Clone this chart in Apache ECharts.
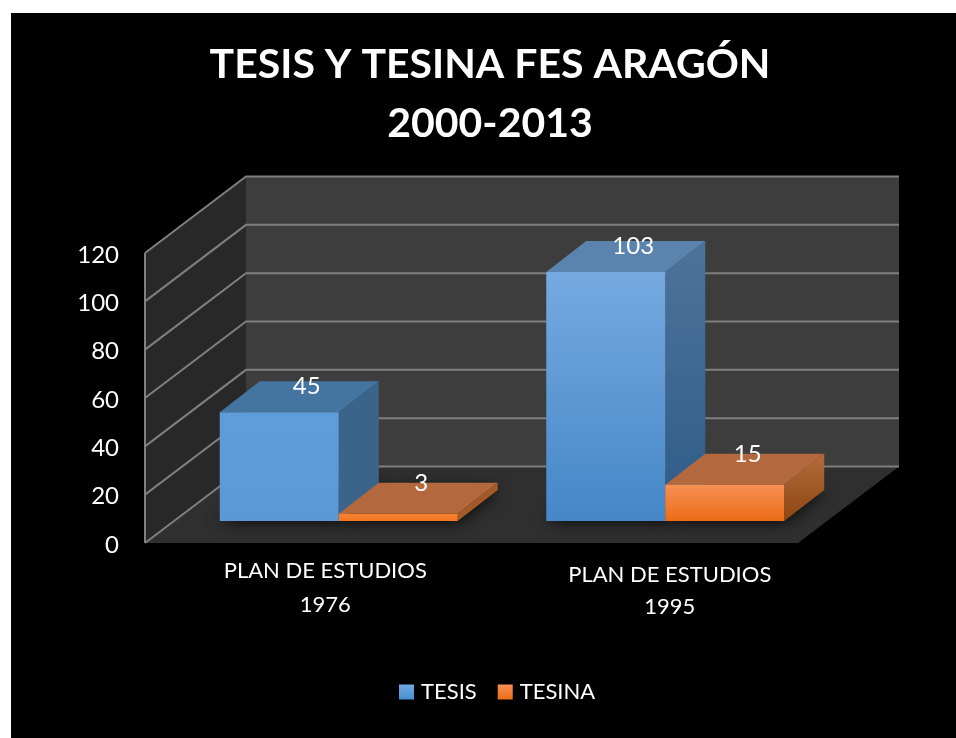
<!DOCTYPE html>
<html>
<head>
<meta charset="utf-8">
<style>html,body{margin:0;padding:0;background:#fff}#c{width:956px;height:738px}</style>
<script src="https://cdn.jsdelivr.net/npm/echarts@6/dist/echarts.min.js"></script>
</head>
<body>
<div id="c"></div>
<script>
const categories = ['PLAN DE ESTUDIOS\n1976', 'PLAN DE ESTUDIOS\n1995'];
const tesis = [45, 103];
const tesina = [3, 15];
const seriesNames = ['TESIS', 'TESINA'];
const yTicks = [0, 20, 40, 60, 80, 100, 120];
const titleText = 'TESIS Y TESINA FES ARAGÓN\n2000-2013';

const FONT = 'Lato, Carlito, sans-serif';
const WALL_DX = 101, WALL_DY = 76.5;      // depth of the whole chart box
const FLOOR_DX = 30.5, FLOOR_DY = 22;     // bars stand this far behind the front edge
const BAR_DX = 40, BAR_DY = 31;           // depth of a bar
const BAR_W = 119;
const grad = (a, b) => new echarts.graphic.LinearGradient(0, 0, 0, 1, [{offset: 0, color: a}, {offset: 1, color: b}]);

const barStyles = {
  TESIS: [
    {front: grad('#5F9CDA', '#5A98D6'), top: '#4475A0', side: '#3A648A'},
    {front: grad('#76A9E0', '#4587C8'), top: '#5A83AE', side: grad('#4E739B', '#2D5C88')}
  ],
  TESINA: [
    {front: grad('#F8822E', '#F47522'), top: '#B4683E', side: '#A45A26'},
    {front: grad('#F79153', '#EC6C16'), top: '#B4683E', side: grad('#B56A3C', '#8C4710')}
  ]
};
const labelShift = {TESIS: [7.5, -10], TESINA: [3, -14.5]};

function footprint(api, cat, serie) {
  const base = api.coord([cat, 0]);
  const x0 = base[0] + FLOOR_DX + (serie === 0 ? -BAR_W : 0);
  const y0 = base[1] - FLOOR_DY;
  return {x0, x1: x0 + BAR_W, y0};
}

function renderBox(name, serie) {
  return function (params, api) {
    const cat = api.value(0), val = api.value(1);
    const f = footprint(api, cat, serie);
    const yTop = api.coord([cat, val])[1] - FLOOR_DY;
    const st = barStyles[name][params.dataIndex];
    const {x0, x1, y0} = f;
    const poly = (pts, fill) => ({type: 'polygon', shape: {points: pts}, style: {fill, stroke: null}});
    const shift = labelShift[name];
    return {
      type: 'group',
      children: [
        poly([[x1, y0], [x1 + BAR_DX, y0 - BAR_DY], [x1 + BAR_DX, yTop - BAR_DY], [x1, yTop]], st.side),
        poly([[x0, yTop], [x1, yTop], [x1 + BAR_DX, yTop - BAR_DY], [x0 + BAR_DX, yTop - BAR_DY]], st.top),
        poly([[x0, y0], [x1, y0], [x1, yTop], [x0, yTop]], st.front),
        {
          type: 'text',
          x: (x0 + x1) / 2 + BAR_DX / 2 + shift[0],
          y: yTop - BAR_DY / 2 + shift[1],
          z2: 10,
          style: {text: String(val), fill: '#fff', font: '24px ' + FONT, textAlign: 'center', textVerticalAlign: 'middle'}
        }
      ]
    };
  };
}

function renderWalls(params, api) {
  const cs = params.coordSys;
  const L = cs.x, R = cs.x + cs.width, T = cs.y, B = cs.y + cs.height;
  const children = [
    {type: 'polygon', shape: {points: [[L + WALL_DX, T - WALL_DY], [R + WALL_DX, T - WALL_DY], [R + WALL_DX, B - WALL_DY], [L + WALL_DX, B - WALL_DY]]}, style: {fill: '#3D3D3D'}},
    {type: 'polygon', shape: {points: [[L, T], [L + WALL_DX, T - WALL_DY], [L + WALL_DX, B - WALL_DY], [L, B]]}, style: {fill: '#282828'}},
    {type: 'polygon', shape: {points: [[L, B], [L + WALL_DX, B - WALL_DY], [R + WALL_DX, B - WALL_DY], [R, B]]}, style: {fill: '#2F2F2F'}}
  ];
  const line = {stroke: '#7F7F7F', lineWidth: 2};
  yTicks.forEach(t => {
    const y = api.coord([0, t])[1];
    children.push({type: 'polyline', shape: {points: [[L, y], [L + WALL_DX, y - WALL_DY], [R + WALL_DX, y - WALL_DY]]}, style: {...line, fill: null}});
  });
  children.push({type: 'polyline', shape: {points: [[L, T], [L, B]]}, style: {...line, fill: null}});
  // soft shadows of the bars on the floor
  [tesis, tesina].forEach((vals, s) => vals.forEach((v, c) => {
    const {x0, x1, y0} = footprint(api, c, s);
    children.push({type: 'polygon', shape: {points: [[x0, y0], [x1, y0], [x1 + BAR_DX, y0 - BAR_DY], [x0 + BAR_DX, y0 - BAR_DY]]},
      style: {fill: '#151515', shadowBlur: 16, shadowColor: 'rgba(0,0,0,0.95)'}});
  }));
  return {type: 'group', children};
}

const catToken = (lineHeight, left) => ({color: '#fff', fontFamily: FONT, fontSize: 22, lineHeight, padding: [0, 0, 0, left]});

const chart = echarts.init(document.getElementById('c'), null, {renderer: 'canvas'});
chart.setOption({
  animation: false,
  backgroundColor: '#fff',
  graphic: [{type: 'rect', z: -10, silent: true, shape: {x: 11, y: 13, width: 945, height: 725}, style: {fill: '#000'}}],
  title: {
    text: titleText, left: 485, top: 30, textAlign: 'center',
    textStyle: {color: '#fff', fontFamily: FONT, fontWeight: 'bold', fontSize: 41, lineHeight: 59}
  },
  legend: {
    data: seriesNames, left: 394, top: 676, itemWidth: 15, itemHeight: 15, itemGap: 21, icon: 'rect',
    textStyle: {color: '#fff', fontFamily: FONT, fontSize: 22, padding: [0, 0, 0, 2]}
  },
  grid: {left: 145, top: 253, width: 653, height: 290, containLabel: false},
  xAxis: {
    type: 'category', data: categories,
    axisLine: {show: false}, axisTick: {show: false}, splitLine: {show: false},
    axisLabel: {
      interval: 0, margin: 11, color: '#fff', fontFamily: FONT, fontSize: 22,
      formatter: (v, i) => v.split('\n').map((l, n) => `{c${i}l${n}|${l}}`).join('\n'),
      rich: {
        c0l0: catToken(34, 34), c0l1: catToken(34, 34),
        c1l0: catToken(42, 70), c1l1: catToken(22, 70)
      }
    }
  },
  yAxis: {
    type: 'value', min: 0, max: 120, interval: 20,
    axisLine: {show: false},
    axisTick: {show: false}, splitLine: {show: false},
    axisLabel: {
      margin: 26,
      formatter: v => `{t|${v}}`,
      rich: {t: {color: '#fff', fontFamily: FONT, fontSize: 24, lineHeight: 24, padding: [4, 0, 0, 0]}}
    }
  },
  series: [
    {type: 'custom', name: 'walls', z: 1, silent: true, renderItem: renderWalls, data: [[0, 0]], encode: {x: 0, y: 1}, clip: false},
    {type: 'custom', name: 'TESIS', z: 3, renderItem: renderBox('TESIS', 0), data: tesis.map((v, i) => [i, v]), encode: {x: 0, y: 1}, clip: false,
      itemStyle: {color: grad('#6FA8E2', '#4A8FD0')}},
    {type: 'custom', name: 'TESINA', z: 4, renderItem: renderBox('TESINA', 1), data: tesina.map((v, i) => [i, v]), encode: {x: 0, y: 1}, clip: false,
      itemStyle: {color: grad('#F79153', '#EC6C16')}}
  ]
});
</script>
</body>
</html>
